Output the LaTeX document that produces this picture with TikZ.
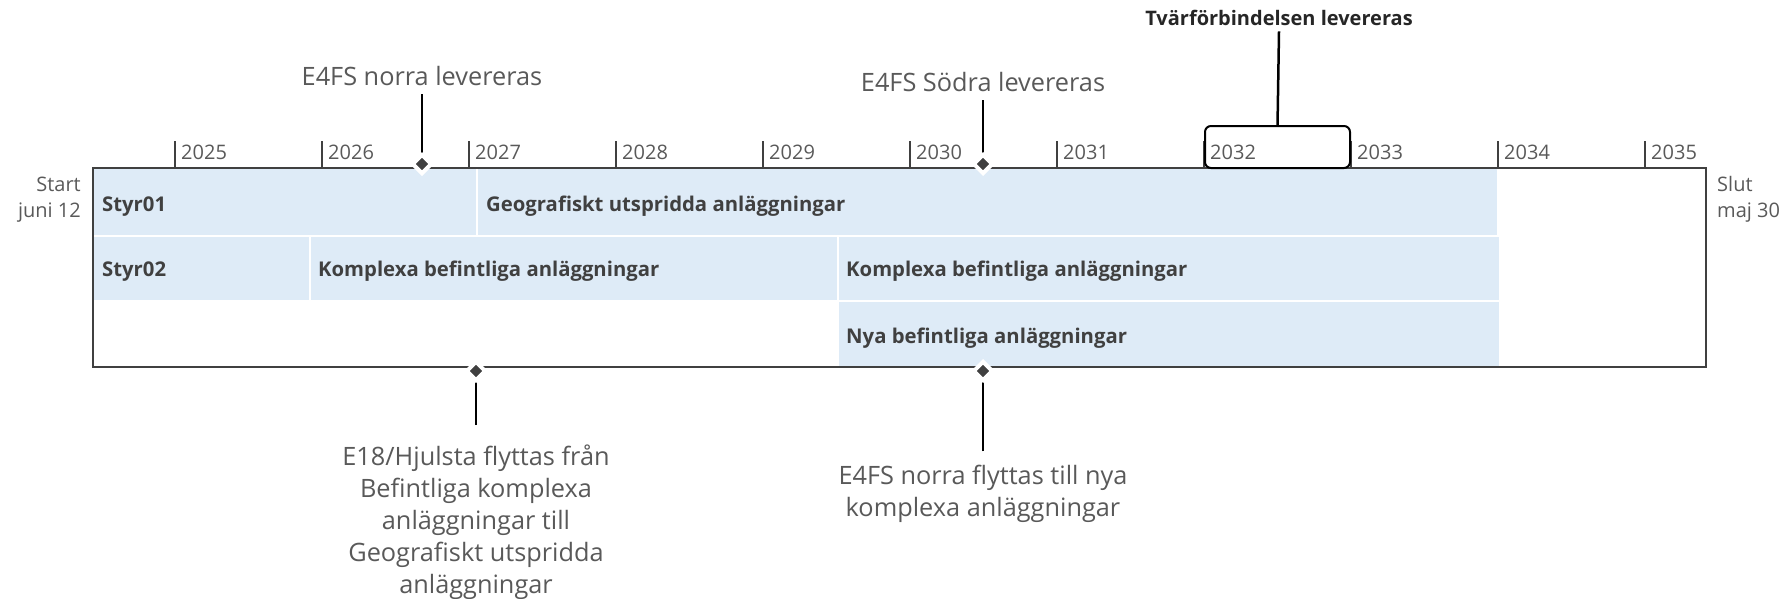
\documentclass[tikz,border=0pt]{standalone}
\usepackage{fontspec}
\setmainfont{Open Sans}
\usetikzlibrary{shapes.geometric,backgrounds}
\definecolor{barblue}{HTML}{DEEBF7}
\definecolor{framegray}{HTML}{404040}
\definecolor{textgray}{HTML}{595959}
\tikzset{
    bar/.style={fill=barblue},
    frame/.style={draw=framegray, line width=2pt},
    yeartick/.style={draw=framegray, line width=2pt},
    bartext/.style={anchor=base west, inner sep=0pt, text=framegray, font=\bfseries\fontsize{20.3}{24}\selectfont},
    yeartext/.style={anchor=base west, inner sep=0pt, text=textgray, font=\fontsize{20}{24}\selectfont},
    sidetext/.style={inner sep=0pt, text=textgray, font=\fontsize{20}{26}\selectfont},
    calltext/.style={anchor=base, inner xsep=0pt, text=textgray, align=center, font=\fontsize{25.3}{32}\selectfont},
    boldcall/.style={anchor=base, inner xsep=0pt, text=black!85, font=\bfseries\fontsize{20}{24}\selectfont},
    milestone/.style={diamond, fill=framegray, draw=white, line width=4pt, minimum size=20pt, inner sep=0pt},
    hilite/.style={draw=black, line width=2pt, rounded corners=6pt, minimum width=145pt, minimum height=42pt, inner sep=0pt, outer sep=0pt},
    leader/.style={black, line width=2.5pt}
}
\begin{document}
\begin{tikzpicture}[x=1pt, y=-1pt]
    \useasboundingbox (0,0) rectangle (1785,598);
    % staplar
    \fill[bar] (93,168) rectangle (476,235);
    \fill[bar] (478,168) rectangle (1497,235);
    \fill[bar] (93,237) rectangle (309,300);
    \fill[bar] (311,237) rectangle (837,300);
    \fill[bar] (839,237) rectangle (1499,300);
    \fill[bar] (839,302) rectangle (1499,367);
    \draw[frame] (93,168) rectangle (1706,367);
    % tidsaxel
    \foreach \yr [count=\i from 0] in {2025,...,2035} {
        \pgfmathsetmacro{\xx}{175+147*\i}
        \draw[yeartick] (\xx,141) -- (\xx,168);
        \node[yeartext] (yr\yr) at (\xx+6,159) {\yr};
    }
    \node[hilite, anchor=south west] (h2032) at (1205,168) {};
    \node[sidetext, anchor=base east, align=right] (start) at (81,217) {Start\\juni 12};
    \node[sidetext, anchor=base west, align=left] (slut) at (1717,217) {Slut\\maj 30};
    \node[bartext] (styr01) at (102,211) {Styr01};
    \node[bartext] (geo) at (486,211) {Geografiskt utspridda anläggningar};
    \node[bartext] (styr02) at (102,276) {Styr02};
    \node[bartext] (kompA) at (318,276) {Komplexa befintliga anläggningar};
    \node[bartext] (kompB) at (846,276) {Komplexa befintliga anläggningar};
    \node[bartext] (nya) at (846,343) {Nya befintliga anläggningar};
    % milstolpar
    \node[milestone] (msNorra) at (422,164) {};
    \node[milestone] (msSodra) at (983,164) {};
    \node[milestone] (msHjulsta) at (476,371) {};
    \node[milestone] (msFlytt) at (983,371) {};
    \node[calltext, inner ysep=9pt] (lblNorra) at (422,85) {E4FS norra levereras};
    \node[calltext, inner ysep=9pt] (lblSodra) at (983,91) {E4FS Södra levereras};
    \node[boldcall, inner ysep=6pt] (lblTvar) at (1279,25) {Tvärförbindelsen levereras};
    \node[calltext, inner ysep=19pt] (lblHjulsta) at (476,593) {E18/Hjulsta flyttas från\\Befintliga komplexa\\anläggningar till\\Geografiskt utspridda\\anläggningar};
    \node[calltext, inner ysep=13pt] (lblFlytt) at (983,516) {E4FS norra flyttas till nya\\komplexa anläggningar};
    \begin{scope}[on background layer]
        \draw[leader] (lblNorra.south) -- (msNorra.center);
        \draw[leader] (lblSodra.south) -- (msSodra.center);
        \draw[leader] (lblTvar.south) -- (h2032.north);
        \draw[leader] (lblHjulsta.north) -- (msHjulsta.center);
        \draw[leader] (lblFlytt.north) -- (msFlytt.center);
    \end{scope}
\end{tikzpicture}
\end{document}
